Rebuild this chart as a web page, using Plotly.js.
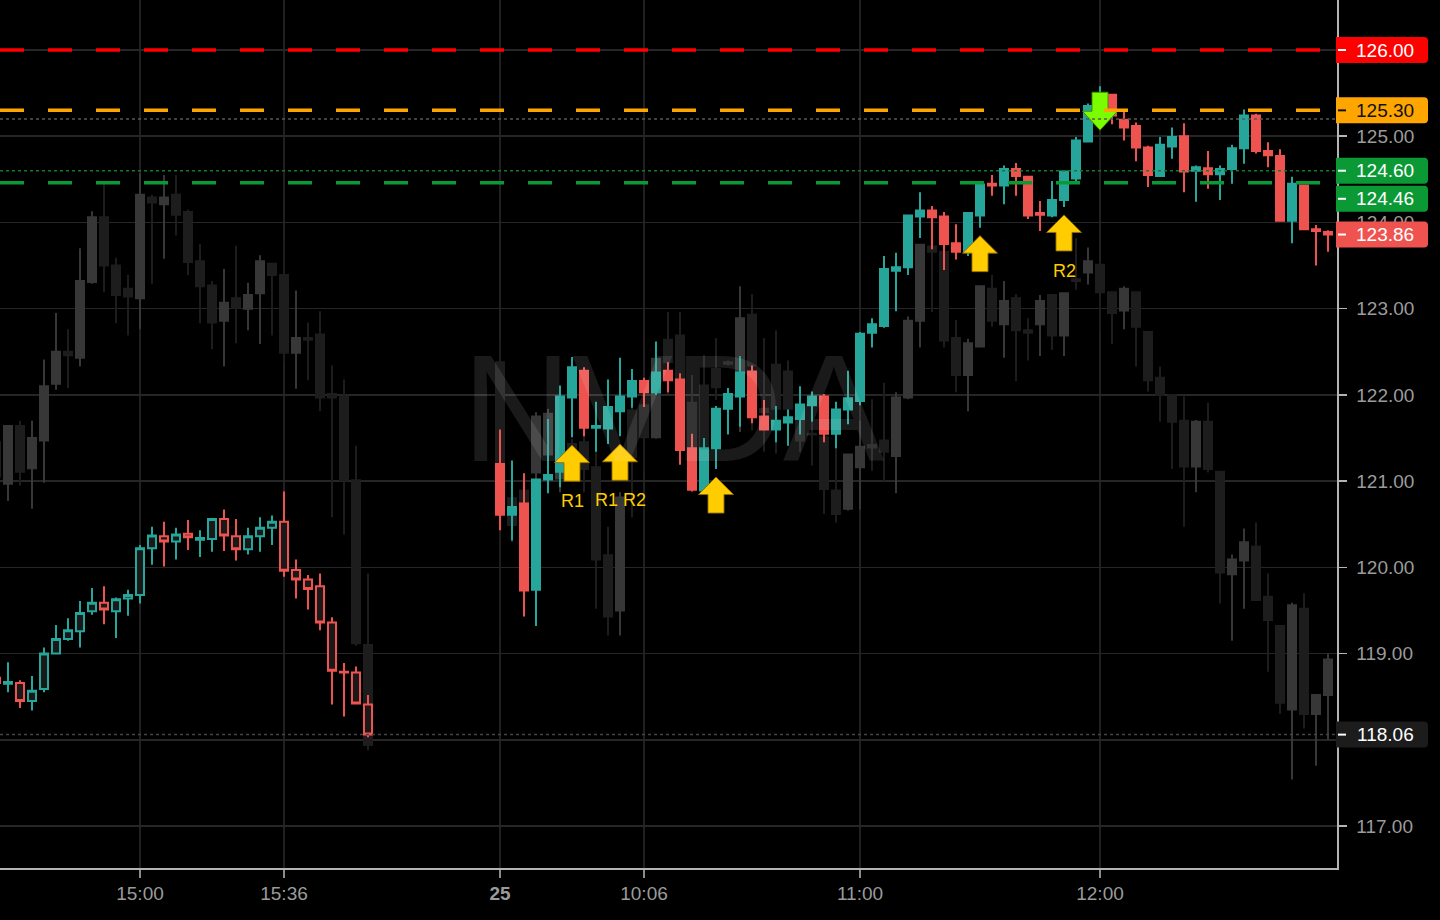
<!DOCTYPE html>
<html><head><meta charset="utf-8">
<script src="https://cdn.plot.ly/plotly-3.0.1.min.js"></script>
<style>html,body{margin:0;padding:0;background:#000;}#chart{width:1440px;height:920px;}</style>
</head><body><div id="chart"></div>
<script>
// ---------- session / category settings ----------
const day24Start = '14:24';
const day25Start = '09:30';
const barMinutes = 3;
const sessionGapBars = 10;

// ---------- main series, 24th (hollow candles) ----------
const open24  = [118.72,118.65,118.66,118.45,118.59,119.00,119.17,119.26,119.49,119.59,119.49,119.64,119.68,120.22,120.36,120.30,120.39,120.32,120.33,120.56,120.36,120.21,120.36,120.46,120.53,119.97,119.86,119.78,119.36,118.79,118.78,118.41];
const high24  = [118.75,118.90,118.69,118.74,119.07,119.33,119.41,119.61,119.76,119.78,119.65,119.74,120.26,120.47,120.53,120.46,120.55,120.43,120.57,120.67,120.56,120.46,120.58,120.60,120.88,120.09,119.91,119.93,119.42,118.89,118.85,118.52];
const low24   = [118.62,118.55,118.37,118.34,118.55,118.99,119.15,119.07,119.45,119.34,119.18,119.44,119.58,120.03,120.01,120.09,120.20,120.12,120.18,120.19,120.08,120.15,120.18,120.26,119.89,119.64,119.51,119.27,118.41,118.27,118.41,118.03];
const close24 = [118.66,118.67,118.45,118.57,119.00,119.17,119.27,119.47,119.59,119.51,119.63,119.68,120.22,120.37,120.30,120.38,120.35,120.34,120.56,120.37,120.21,120.36,120.46,120.53,119.96,119.86,119.75,119.36,118.80,118.78,118.42,118.06];

// ---------- main series, 25th ----------
const open25  = [121.20,120.61,120.74,119.74,121.02,121.11,121.97,122.28,121.62,121.61,121.81,121.98,122.16,122.03,122.28,122.18,121.38,120.89,121.38,121.84,121.98,122.27,121.75,121.60,121.68,121.72,121.88,121.98,121.55,121.83,121.93,122.72,122.80,123.44,123.48,124.07,124.14,124.07,123.76,123.66,124.08,124.45,124.43,124.62,124.53,124.11,124.08,124.26,124.51,124.94,125.35,125.48,125.19,125.12,124.87,124.54,124.88,125.00,124.60,124.63,124.56,124.62,124.86,125.24,124.83,124.77,124.02,124.43,123.92,123.89];
const high25  = [121.60,121.24,121.09,121.03,121.72,122.11,122.44,122.32,121.92,122.18,122.43,122.30,122.20,122.62,122.38,122.25,121.55,121.50,121.87,122.08,122.45,122.34,121.94,121.87,121.83,122.10,122.04,122.01,121.92,122.28,122.73,122.89,123.61,123.65,124.09,124.35,124.19,124.12,123.98,124.11,124.44,124.55,124.66,124.69,124.54,124.25,124.48,124.59,124.99,125.38,125.58,125.49,125.28,125.16,124.89,124.99,125.10,125.15,124.66,124.83,124.66,124.90,125.31,125.26,124.93,124.85,124.53,124.44,123.97,123.91];
const low25   = [120.43,120.31,119.43,119.32,120.86,120.93,121.51,121.52,121.34,121.43,121.52,121.85,121.86,122.00,122.03,121.19,120.88,120.87,121.14,121.54,121.63,121.67,121.59,121.45,121.41,121.54,121.69,121.45,121.38,121.66,121.88,122.55,122.78,122.97,123.39,123.82,123.69,123.45,123.57,123.61,123.94,124.31,124.21,124.31,124.04,123.90,124.06,124.18,124.48,124.93,125.20,125.14,124.95,124.71,124.41,124.53,124.74,124.35,124.24,124.39,124.26,124.45,124.68,124.80,124.64,124.01,123.76,123.91,123.50,123.66];
const close25 = [120.61,120.70,119.73,121.02,121.07,121.98,122.32,121.62,121.64,121.86,121.98,122.16,122.03,122.26,122.17,121.36,120.90,121.38,121.84,122.01,122.26,121.74,121.60,121.70,121.74,121.89,121.98,121.55,121.83,121.96,122.71,122.82,123.46,123.48,124.08,124.14,124.06,123.75,123.66,124.11,124.44,124.43,124.62,124.54,124.08,124.09,124.26,124.59,124.95,125.35,125.47,125.24,125.10,124.87,124.55,124.90,124.99,124.59,124.64,124.56,124.62,124.86,125.24,124.83,124.78,124.02,124.45,123.92,123.90,123.86];

// ---------- overlay (ghost) series, 24th ----------
const gOpen24  = [121.45,120.97,121.64,121.15,121.47,122.13,122.50,122.43,123.31,124.06,123.50,123.23,123.12,124.29,124.21,124.32,124.12,123.55,123.27,122.86,123.12,123.00,123.18,123.52,123.39,122.49,122.66,122.70,122.01,121.98,121.01,119.10];
const gHigh24  = [121.51,121.64,121.70,121.70,122.41,122.95,122.76,123.70,124.13,124.45,123.59,123.39,124.57,124.32,124.55,124.55,124.15,123.75,123.32,123.46,123.73,123.30,123.62,123.53,123.80,123.21,122.84,122.97,122.34,122.18,121.41,119.93];
const gLow24   = [120.97,120.77,120.95,120.68,120.98,122.06,122.08,122.33,123.29,123.19,122.83,122.69,122.76,123.29,123.58,123.85,123.39,122.83,122.53,122.33,122.60,122.75,122.59,122.69,122.36,122.07,122.17,121.81,120.58,120.38,119.09,117.88];
const gClose24 = [121.05,121.64,121.11,121.50,122.10,122.50,122.46,123.32,124.06,123.50,123.16,123.14,124.32,124.23,124.29,124.09,123.54,123.26,122.84,123.07,123.01,123.16,123.55,123.39,122.49,122.66,122.64,121.97,121.97,121.01,119.12,117.94];

// ---------- overlay (ghost) series, 25th ----------
const gOpen25  = [122.38,120.80,120.89,121.10,121.31,121.03,121.43,121.45,121.16,120.14,119.50,121.82,121.88,121.51,122.64,122.69,121.91,122.11,122.30,122.38,122.27,122.93,121.84,122.35,122.27,121.72,121.55,121.51,120.89,120.68,121.16,121.42,121.47,121.29,121.97,122.86,123.72,123.66,122.66,122.23,122.56,123.23,122.82,123.12,122.75,122.82,123.16,122.69,123.34,123.42,123.51,123.19,122.98,123.19,122.73,122.20,122.00,121.70,121.17,121.69,121.11,119.92,120.08,120.24,119.66,119.32,118.35,119.52,118.30,118.52];
const gHigh25  = [122.64,121.03,121.09,121.80,121.84,121.65,121.49,121.53,121.57,120.47,120.87,121.88,121.98,122.61,122.96,122.96,122.23,122.46,122.66,122.40,123.26,123.17,122.66,122.75,122.40,122.07,121.69,121.65,121.40,121.31,121.70,121.95,122.14,122.03,122.91,123.75,123.73,123.67,122.87,122.65,123.27,123.39,123.32,123.17,122.89,123.16,123.17,123.19,123.82,123.71,123.55,123.20,123.26,123.20,122.74,122.33,122.01,121.98,121.71,121.91,121.12,120.15,120.45,120.52,119.93,119.33,119.59,119.70,118.53,119.00];
const gLow25   = [119.19,120.29,120.60,121.00,120.87,120.87,121.03,120.87,119.52,119.21,119.21,120.58,121.12,121.49,122.01,121.95,121.18,121.03,121.94,122.34,121.57,121.59,121.34,121.32,121.41,121.34,121.18,120.62,120.52,120.66,120.67,121.12,121.00,120.86,121.95,122.55,122.96,122.55,122.03,121.81,122.55,122.79,122.43,122.16,122.40,122.45,122.52,122.45,123.22,123.28,122.72,122.59,122.76,122.33,122.04,121.69,121.14,120.47,120.87,121.10,119.58,119.15,119.52,119.61,118.79,118.30,117.54,118.13,117.70,118.00];
const gClose25 = [120.62,120.49,120.74,121.75,121.78,121.55,121.18,121.14,120.09,119.43,120.81,121.28,121.51,122.42,122.38,122.03,121.38,121.38,122.09,122.36,122.89,122.34,121.80,121.84,121.84,121.47,121.54,120.91,120.62,121.31,121.40,121.39,121.34,121.97,122.86,123.74,123.66,122.63,122.23,122.60,123.26,122.86,123.09,122.75,122.72,123.09,122.69,123.18,123.32,123.55,123.19,122.95,123.23,122.79,122.17,122.00,121.69,121.17,121.69,121.14,119.94,120.09,120.29,119.62,119.39,118.43,119.56,118.30,118.52,118.93];

// ---------- axis ticks ----------
const tickDays   = [24, 24, 25, 25, 25, 25];
const tickTimes  = ['15:00','15:36','09:30','10:06','11:00','12:00'];
const tickLabels = ['15:00','15:36','<b>25</b>','10:06','11:00','12:00'];
const priceTicks = [117,118,119,120,121,122,123,124,125,126];

// ---------- signals (day 25) ----------
const upSignalTimes  = ['09:48','10:00','10:24','11:30','11:51'];
const upSignalLabels = ['R1','R1 R2','','','R2'];
const downSignalTimes = ['12:00'];

// ---------- levels ----------
const dashedLevels = [126.00, 125.30, 124.46];
const dashedColors = ['#FF0000', '#FFA500', '#0B9935'];
const dottedLevels = [125.20, 124.60, 118.06];
const dottedColors = ['#585858', '#137A30', '#444444'];
const tagPrices = [126.00, 125.30, 124.60, 124.46, 123.86, 118.06];
const tagBg     = ['#FF0000','#FFA500','#0B9935','#0B9935','#EF5350','#1C1C1C'];
const tagFg     = ['#FFFFFF','#111111','#FFFFFF','#FFFFFF','#FFFFFF','#FFFFFF'];

// ---------- helpers ----------
function toMin(t){ const p = t.split(':').map(Number); return p[0]*60 + p[1]; }
function fmt(m){ return String(Math.floor(m/60)).padStart(2,'0') + ':' + String(m%60).padStart(2,'0'); }
function barTimes(start, n){ const out=[]; for(let i=0;i<n;i++) out.push(fmt(toMin(start)+i*barMinutes)); return out; }
function slot(day, t){
  if(day === 24) return (toMin(t) - toMin(day24Start)) / barMinutes;
  return open24.length + sessionGapBars + (toMin(t) - toMin(day25Start)) / barMinutes;
}
const times24 = barTimes(day24Start, open24.length);
const times25 = barTimes(day25Start, open25.length);
const x24 = times24.map(t => slot(24, t));
const x25 = times25.map(t => slot(25, t));

const FONT = 'Liberation Sans, Arial, sans-serif';
const TEAL = '#26A69A', RED = '#EF5350';

const base = {type:'candlestick', hoverinfo:'skip', showlegend:false, whiskerwidth:0};
const traces = [
  Object.assign({}, base, {
    x: x24.concat(x25), open: gOpen24.concat(gOpen25), high: gHigh24.concat(gHigh25),
    low: gLow24.concat(gLow25), close: gClose24.concat(gClose25),
    increasing:{line:{color:'#373737', width:2}, fillcolor:'#373737'},
    decreasing:{line:{color:'#1D1D1D', width:2}, fillcolor:'#1D1D1D'}
  }),
  Object.assign({}, base, {
    x: x24, open: open24, high: high24, low: low24, close: close24,
    increasing:{line:{color:TEAL, width:2}, fillcolor:'#191919'},
    decreasing:{line:{color:RED, width:2}, fillcolor:'#191919'}
  }),
  Object.assign({}, base, {
    x: x25, open: open25, high: high25, low: low25, close: close25,
    increasing:{line:{color:TEAL, width:2}, fillcolor:TEAL},
    decreasing:{line:{color:RED, width:2}, fillcolor:RED}
  })
];

const shapes = [];
const annotations = [];

// signal arrows
upSignalTimes.forEach((t, i) => {
  const k = times25.indexOf(t);
  shapes.push({type:'path', layer:'above', xref:'x', yref:'y', xsizemode:'pixel', ysizemode:'pixel',
    xanchor: x25[k], yanchor: low25[k],
    path:'M 0,-8 L 17.5,-25.5 L 8,-25.5 L 8,-44 L -8,-44 L -8,-25.5 L -17.5,-25.5 Z',
    fillcolor:'#FFCC00', line:{color:'rgba(150,110,0,0.9)', width:1}});
  if(upSignalLabels[i]) annotations.push({xref:'x', yref:'y', x:x25[k], y:low25[k], yshift:-64,
    xanchor:'center', yanchor:'middle',
    text:upSignalLabels[i], showarrow:false, font:{family:FONT, size:18, color:'#FFCC00'}});
});
downSignalTimes.forEach(t => {
  const k = times25.indexOf(t);
  shapes.push({type:'path', layer:'above', xref:'x', yref:'y', xsizemode:'pixel', ysizemode:'pixel',
    xanchor: x25[k], yanchor: high25[k],
    path:'M -8,-6 L 8,-6 L 8,-25 L 17.5,-25 L 0,-44 L -17.5,-25 L -8,-25 Z',
    fillcolor:'#7CFC00', line:{color:'rgba(60,140,0,0.9)', width:1}});
});

// level lines
dottedLevels.forEach((p, i) => shapes.push({type:'line', layer:'above', xref:'paper', x0:0, x1:1, yref:'y', y0:p, y1:p,
  line:{color:dottedColors[i], width:1.5, dash:'3px,3px'}}));
dashedLevels.forEach((p, i) => shapes.push({type:'line', layer:'above', xref:'paper', x0:0, x1:1, yref:'y', y0:p, y1:p,
  line:{color:dashedColors[i], width:3.5, dash:'24px,24px'}}));

// price tags on the right axis
const tagStyle = {shift:[0,0,0,-16,0,0]};
tagPrices.forEach((p, i) => {
  const s = tagStyle.shift[i];
  const top = 13 + s, bot = -13 + s;
  shapes.push({type:'path', layer:'above', xref:'paper', yref:'y', xsizemode:'pixel', ysizemode:'pixel',
    xanchor:1, yanchor:p,
    path:`M -1,${top} L 87,${top} Q 91,${top} 91,${top-4} L 91,${bot+4} Q 91,${bot} 87,${bot} L -1,${bot} Z`,
    fillcolor:tagBg[i], line:{width:0}});
  shapes.push({type:'line', layer:'above', xref:'paper', yref:'y', xsizemode:'pixel', ysizemode:'pixel',
    xanchor:1, yanchor:p, x0:1, x1:9, y0:s, y1:s, line:{color:tagFg[i], width:2}});
  annotations.push({xref:'paper', yref:'y', x:1, y:p, xshift:48, yshift:s, xanchor:'center', yanchor:'middle',
    showarrow:false, text:p.toFixed(2), font:{family:FONT, size:19, color:tagFg[i]}});
});

// watermark
annotations.push({xref:'paper', yref:'paper', x:0.504, y:0.53, xanchor:'center', yanchor:'middle', showarrow:false, text:'NVDA',
  font:{family:'Liberation Sans, Arial, sans-serif', size:152, color:'rgba(255,255,255,0.10)'}});

// axis labels hidden where a price tag fully covers them
const priceTickText = priceTicks.map(v => tagPrices.some(p => Math.abs(p - v) < 0.1) ? '' : v.toFixed(2));

const layout = {
  width:1440, height:920,
  paper_bgcolor:'#000000', plot_bgcolor:'#000000',
  margin:{l:0, r:103, t:0, b:52, pad:0},
  showlegend:false, hovermode:false, dragmode:false,
  boxgap:0.2, boxgroupgap:0.1667,
  xaxis:{range:[0.333, 111.75], tickmode:'array',
    tickvals: tickTimes.map((t,i) => slot(tickDays[i], t)), ticktext: tickLabels,
    showgrid:true, gridcolor:'#202020', gridwidth:1.5, zeroline:false,
    showline:true, linecolor:'#B4B4B4', linewidth:1.5,
    ticks:'outside', ticklen:8, tickcolor:'#8A8A8A', tickwidth:1.5,
    tickfont:{family:FONT, size:19, color:'#9B9B9B'},
    rangeslider:{visible:false}, fixedrange:true},
  yaxis:{side:'right', range:[116.513, 126.58], tickmode:'array', tickvals:priceTicks, ticktext:priceTickText,
    showgrid:true, gridcolor:'#262626', gridwidth:1.5, zeroline:false,
    showline:true, linecolor:'#B4B4B4', linewidth:1.5,
    ticks:'outside', ticklen:8, tickcolor:'#B4B4B4', tickwidth:1.5, ticklabelstandoff:6,
    tickfont:{family:FONT, size:19, color:'#9B9B9B'}, fixedrange:true},
  shapes: shapes,
  annotations: annotations
};

Plotly.newPlot('chart', traces, layout, {staticPlot:true, displayModeBar:false});
</script>
</body></html>
